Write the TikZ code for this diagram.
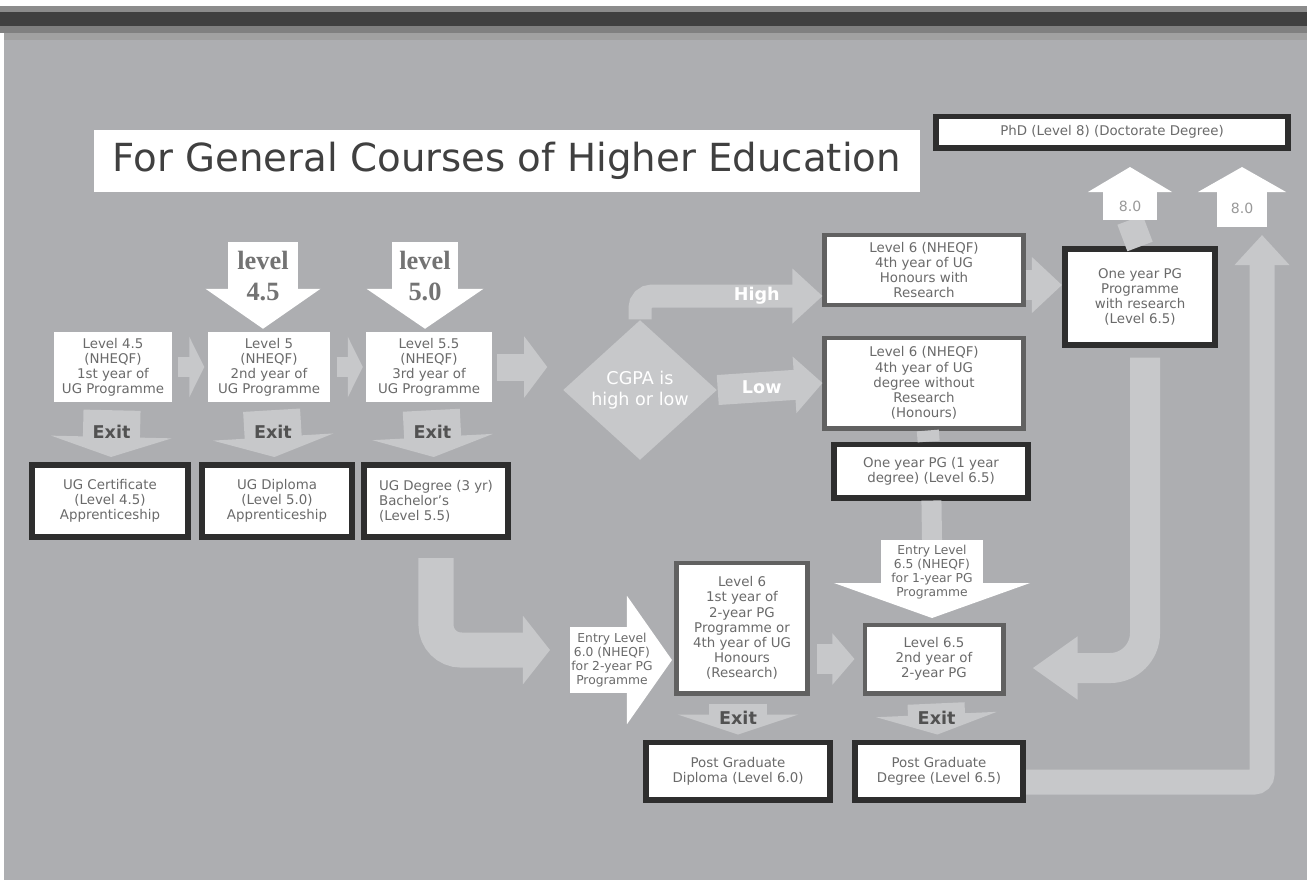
\documentclass[tikz,border=0pt]{standalone}
\usepackage{fontspec}
\setmainfont{DejaVu Sans}
\newfontfamily\levelfont{Liberation Serif}
\usetikzlibrary{arrows.meta,shapes.geometric}
\definecolor{bg}{HTML}{ADAEB1}
\definecolor{pale}{HTML}{C7C8CA}
\definecolor{ink}{HTML}{6A6A6A}
\definecolor{frame}{HTML}{2E2E2E}
\tikzset{box/.style={fill=white, text=ink, align=center, inner sep=1pt, font=\fontsize{3.8}{4.3}\selectfont}}
\tikzset{plain/.style={box}, grey/.style={box, draw=black!62, line width=1.4pt}, heavy/.style={box, draw=frame, line width=1.7pt}}
\tikzset{parrow/.style args={#1/#2/#3}{draw=pale, line width=#1, -{Triangle[width=#2, length=#3]}}}
\tikzset{warrow/.style args={#1/#2/#3}{draw=white, line width=#1, -{Triangle[width=#2, length=#3]}}}
\tikzset{link/.style={draw=pale, line width=#1}}
\tikzset{exitarrow/.style={parrow=0.57cm/1.2cm/0.2cm, shorten <=0.08cm, shorten >=0.05cm}}
\tikzset{exitlbl/.style={text=black!68, font=\bfseries\fontsize{5}{6}\selectfont, inner sep=0pt}}
\tikzset{flowlbl/.style={text=white, font=\bfseries\fontsize{5}{6}\selectfont, inner sep=0pt}}

\begin{document}
\begin{tikzpicture}[x=0.01cm, y=-0.01cm]
  \useasboundingbox (0,0) rectangle (1307,887);
  % backdrop
  \fill[white] (0,0) rectangle (1307,887);
  \fill[bg] (4,33) rectangle (1307,880);
  \fill[black!45] (0,6) rectangle (1307,12);
  \fill[black!75] (0,12) rectangle (1307,26);
  \fill[black!50] (0,26) rectangle (1307,33);
  \fill[black!37] (4,33) rectangle (1307,40);

  \node[fill=white, minimum width=8.25cm, minimum height=0.62cm, text=black!75, font=\fontsize{11}{13}\selectfont] (title) at (507,161) {For General Courses of Higher Education};
  \node[heavy, minimum width=3.51cm, minimum height=0.31cm] (phd) at (1112,132) {PhD (Level 8) (Doctorate Degree)};

  % undergraduate years
  \node[plain, minimum width=1.17cm, minimum height=0.69cm] (yr1) at (113,367) {Level 4.5\\(NHEQF)\\1st year of\\UG Programme};
  \node[plain, minimum width=1.22cm, minimum height=0.69cm] (yr2) at (269,367) {Level 5\\(NHEQF)\\2nd year of\\UG Programme};
  \node[plain, minimum width=1.25cm, minimum height=0.69cm] (yr3) at (429,367) {Level 5.5\\(NHEQF)\\3rd year of\\UG Programme};

  \node[heavy, minimum width=1.55cm, minimum height=0.72cm] (cert) at (110,501) {UG Certificate\\(Level 4.5)\\Apprenticeship};
  \node[heavy, minimum width=1.50cm, minimum height=0.72cm] (dipl) at (277,501) {UG Diploma\\(Level 5.0)\\Apprenticeship};
  \node[heavy, minimum width=1.43cm, minimum height=0.72cm, align=left] (deg3) at (436,501) {UG Degree (3 yr)\\Bachelor's\\(Level 5.5)};

  \draw[parrow=0.2cm/0.6cm/0.15cm, shorten <=0.06cm, shorten >=0.03cm] (yr1) -- (yr2);
  \draw[parrow=0.2cm/0.6cm/0.15cm, shorten <=0.06cm, shorten >=0.03cm] (yr2) -- (yr3);
  \draw[exitarrow] (yr1) -- node[exitlbl] (x1) {Exit} (cert);
  \draw[exitarrow] (yr2) -- node[exitlbl] (x2) {Exit} (dipl);
  \draw[exitarrow] (yr3) -- node[exitlbl] (x3) {Exit} (deg3);

  % lateral entries
  \coordinate (in45) at (263,242);
  \coordinate (in50) at (425,242);
  \draw[warrow=0.7cm/1.13cm/0.4cm, shorten >=0.03cm] (in45) -- (in45 |- yr2.north);
  \draw[warrow=0.65cm/1.15cm/0.4cm, shorten >=0.03cm] (in50) -- (in50 |- yr3.north);
  \node[text=black!55, align=center, font=\levelfont\bfseries\fontsize{7.5}{9}\selectfont] (lv45) at (263,276) {level\\4.5};
  \node[text=black!55, align=center, font=\levelfont\bfseries\fontsize{7.5}{9}\selectfont] (lv50) at (425,276) {level\\5.0};

  % fourth year
  \node[diamond, fill=pale, minimum width=1.54cm, minimum height=1.40cm, inner sep=0pt, text=white, align=center, font=\fontsize{5}{6}\selectfont] (gpa) at (640,390) {CGPA is\\high or low};
  \draw[parrow=0.27cm/0.6cm/0.23cm, shorten <=0.05cm, shorten >=0.15cm] (yr3) -- (yr3 -| gpa.west);

  \node[grey, minimum width=1.98cm, minimum height=0.70cm] (hons) at (924,270) {Level 6 (NHEQF)\\4th year of UG\\Honours with\\Research};
  \node[grey, minimum width=1.98cm, minimum height=0.90cm] (nores) at (924,383) {Level 6 (NHEQF)\\4th year of UG\\degree without\\Research\\(Honours)};
  \node[heavy, minimum width=1.93cm, minimum height=0.53cm] (onepg) at (931,471) {One year PG (1 year\\degree) (Level 6.5)};

  \draw[parrow=0.23cm/0.53cm/0.3cm, rounded corners=0.12cm] (gpa.north) |- node[flowlbl, pos=0.82] (hi) {High} ([yshift=-0.26cm]hons.west);
  \draw[parrow=0.3cm/0.55cm/0.28cm] (gpa.east) -- node[flowlbl, pos=0.42] (lo) {Low} (nores.west);
  \draw[link=0.22cm] (nores) -- (onepg);

  % postgraduate
  \node[heavy, minimum width=1.50cm, minimum height=0.95cm] (rpg) at (1140,297) {One year PG\\Programme\\with research\\(Level 6.5)};
  \coordinate (hr) at ([yshift=-0.15cm]hons.east);
  \draw[parrow=0.3cm/0.54cm/0.3cm] (hr) -- (hr -| rpg.west);

  \coordinate (up1) at (1130,220);
  \coordinate (up2) at (1242,227);
  \draw[link=0.27cm] (rpg.north) -- (up1);
  \draw[warrow=0.54cm/0.83cm/0.25cm] (up1) -- (1130,167);
  \draw[warrow=0.5cm/0.87cm/0.25cm] (up2) -- (1242,167);
  \node[text=black!40, font=\fontsize{4}{5}\selectfont] (ph1) at (1130,206) {8.0};
  \node[text=black!40, font=\fontsize{4}{5}\selectfont] (ph2) at (1242,208) {8.0};

  \node[grey, minimum width=1.31cm, minimum height=1.30cm] (pg1) at (742,628) {Level 6\\1st year of\\2-year PG\\Programme or\\4th year of UG\\Honours\\(Research)};
  \node[grey, minimum width=1.38cm, minimum height=0.68cm] (pg2) at (934,659) {Level 6.5\\2nd year of\\2-year PG};
  \node[heavy, minimum width=1.83cm, minimum height=0.57cm] (pgdip) at (738,771) {Post Graduate\\Diploma (Level 6.0)};
  \node[heavy, minimum width=1.68cm, minimum height=0.57cm] (pgdeg) at (939,771) {Post Graduate\\Degree (Level 6.5)};

  % entry into PG
  \coordinate (inA) at (570,660);
  \draw[warrow=0.66cm/1.26cm/0.45cm] (inA) -- (672,660);
  \node[box, fill=none, font=\fontsize{3.5}{4}\selectfont] (entA) at (612,660) {Entry Level\\6.0 (NHEQF)\\for 2-year PG\\Programme};
  \draw[parrow=0.35cm/0.67cm/0.27cm, rounded corners=0.25cm, shorten <=0.18cm, shorten >=0.2cm] (deg3.south) |- ([yshift=0.1cm]inA);

  \coordinate (inB) at (932,540);
  \draw[link=0.2cm] (onepg) -- (inB);
  \draw[warrow=1.01cm/1.95cm/0.35cm] (inB) -- (932,618);
  \node[box, fill=none, font=\fontsize{3.5}{4}\selectfont] (entB) at (932,572) {Entry Level\\6.5 (NHEQF)\\for 1-year PG\\Programme};

  \draw[parrow=0.3cm/0.5cm/0.22cm, shorten <=0.07cm, shorten >=0.08cm] (pg1.east |- pg2.west) -- (pg2.west);
  \draw[exitarrow] (pg1.south -| pgdip) -- node[exitlbl] (x4) {Exit} (pgdip);
  \draw[exitarrow] (pg2) -- node[exitlbl] (x5) {Exit} (pgdeg);

  % long returns
  \draw[parrow=0.3cm/0.6cm/0.45cm, rounded corners=0.35cm, shorten <=0.1cm, shorten >=0.27cm] ([xshift=0.05cm]rpg.south) |- ([yshift=-0.09cm]pg2.east);
  \draw[parrow=0.25cm/0.53cm/0.3cm, rounded corners=0.08cm] ([yshift=-0.11cm]pgdeg.east) -| (1262,235);
\end{tikzpicture}
\end{document}
